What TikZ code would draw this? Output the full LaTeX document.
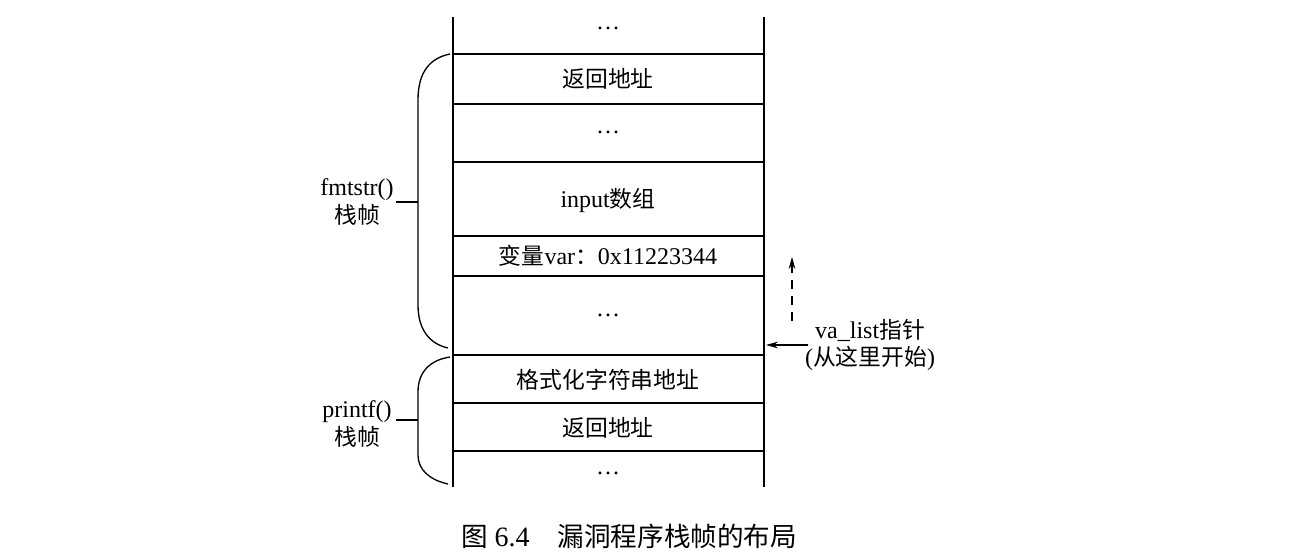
\documentclass[tikz,border=0pt]{standalone}
\usepackage{fontspec}
\setmainfont{Liberation Serif}
\newfontfamily\cjk{Noto Sans CJK SC}[Scale=0.95]
\usetikzlibrary{arrows.meta}
\begin{document}
\begin{tikzpicture}[x=0.75pt,y=-0.75pt,
  lbl/.style={font=\fontsize{18}{20}\selectfont, inner sep=0pt},
  ln/.style={line width=1pt}]
\useasboundingbox (0,0) rectangle (1315,560);
\draw[ln] (453,17) -- (453,487);
\draw[ln] (764,17) -- (764,487);
\foreach \y in {54,104,162,236,276,355,403,451} \draw[ln] (453,\y) -- (764,\y);
\node[lbl] (c1) at (608,28) {…};
\node[lbl] (c2) at (608,79) {\cjk 返回地址};
\node[lbl] (c3) at (608,132) {…};
\node[lbl] (c4) at (608,200) {input\cjk 数组};
\node[lbl] (c5) at (608,256) {{\cjk 变量}var{\cjk ：}0x11223344};
\node[lbl] (c6) at (608,315) {…};
\node[lbl] (c7) at (608,380) {\cjk 格式化字符串地址};
\node[lbl] (c8) at (608,428) {\cjk 返回地址};
\node[lbl] (c9) at (608,473) {…};
% braces
\draw[ln] (450,54) .. controls (430,58) and (418,72) .. (418,100) -- (418,305) .. controls (418,330) and (430,344) .. (448,348);
\draw[ln] (418,202) -- (396,202);
\draw[ln] (450,357) .. controls (430,360) and (418,372) .. (418,392) -- (418,455) .. controls (418,470) and (430,480) .. (448,484);
\draw[ln] (418,420) -- (396,420);
\node[lbl,align=center] (f) at (357,202) {fmtstr()\\[1pt]\cjk 栈帧};
\node[lbl,align=center] (p) at (357,424) {printf()\\[1pt]\cjk 栈帧};
% va_list
\coordinate (vs) at (808,345);
\coordinate (ve) at (766,345);
\draw[line width=0.9pt,-{Stealth[length=9pt,width=5pt]}] (vs) -- (ve);
\coordinate (ds) at (792,321);
\coordinate (de) at (792,257);
\draw[line width=0.9pt,dash pattern=on 7pt off 5pt,-{Stealth[length=9pt,width=5pt]}] (ds) -- (de);
\node[lbl,align=center] (va) at (870,345) {va\_list{\cjk 指针}\\({\cjk 从这里开始})};
\node[lbl,font=\fontsize{21}{23}\selectfont] (cap) at (629,536) {{\cjk 图} 6.4\quad {\cjk 漏洞程序栈帧的布局}};
\end{tikzpicture}
\end{document}
